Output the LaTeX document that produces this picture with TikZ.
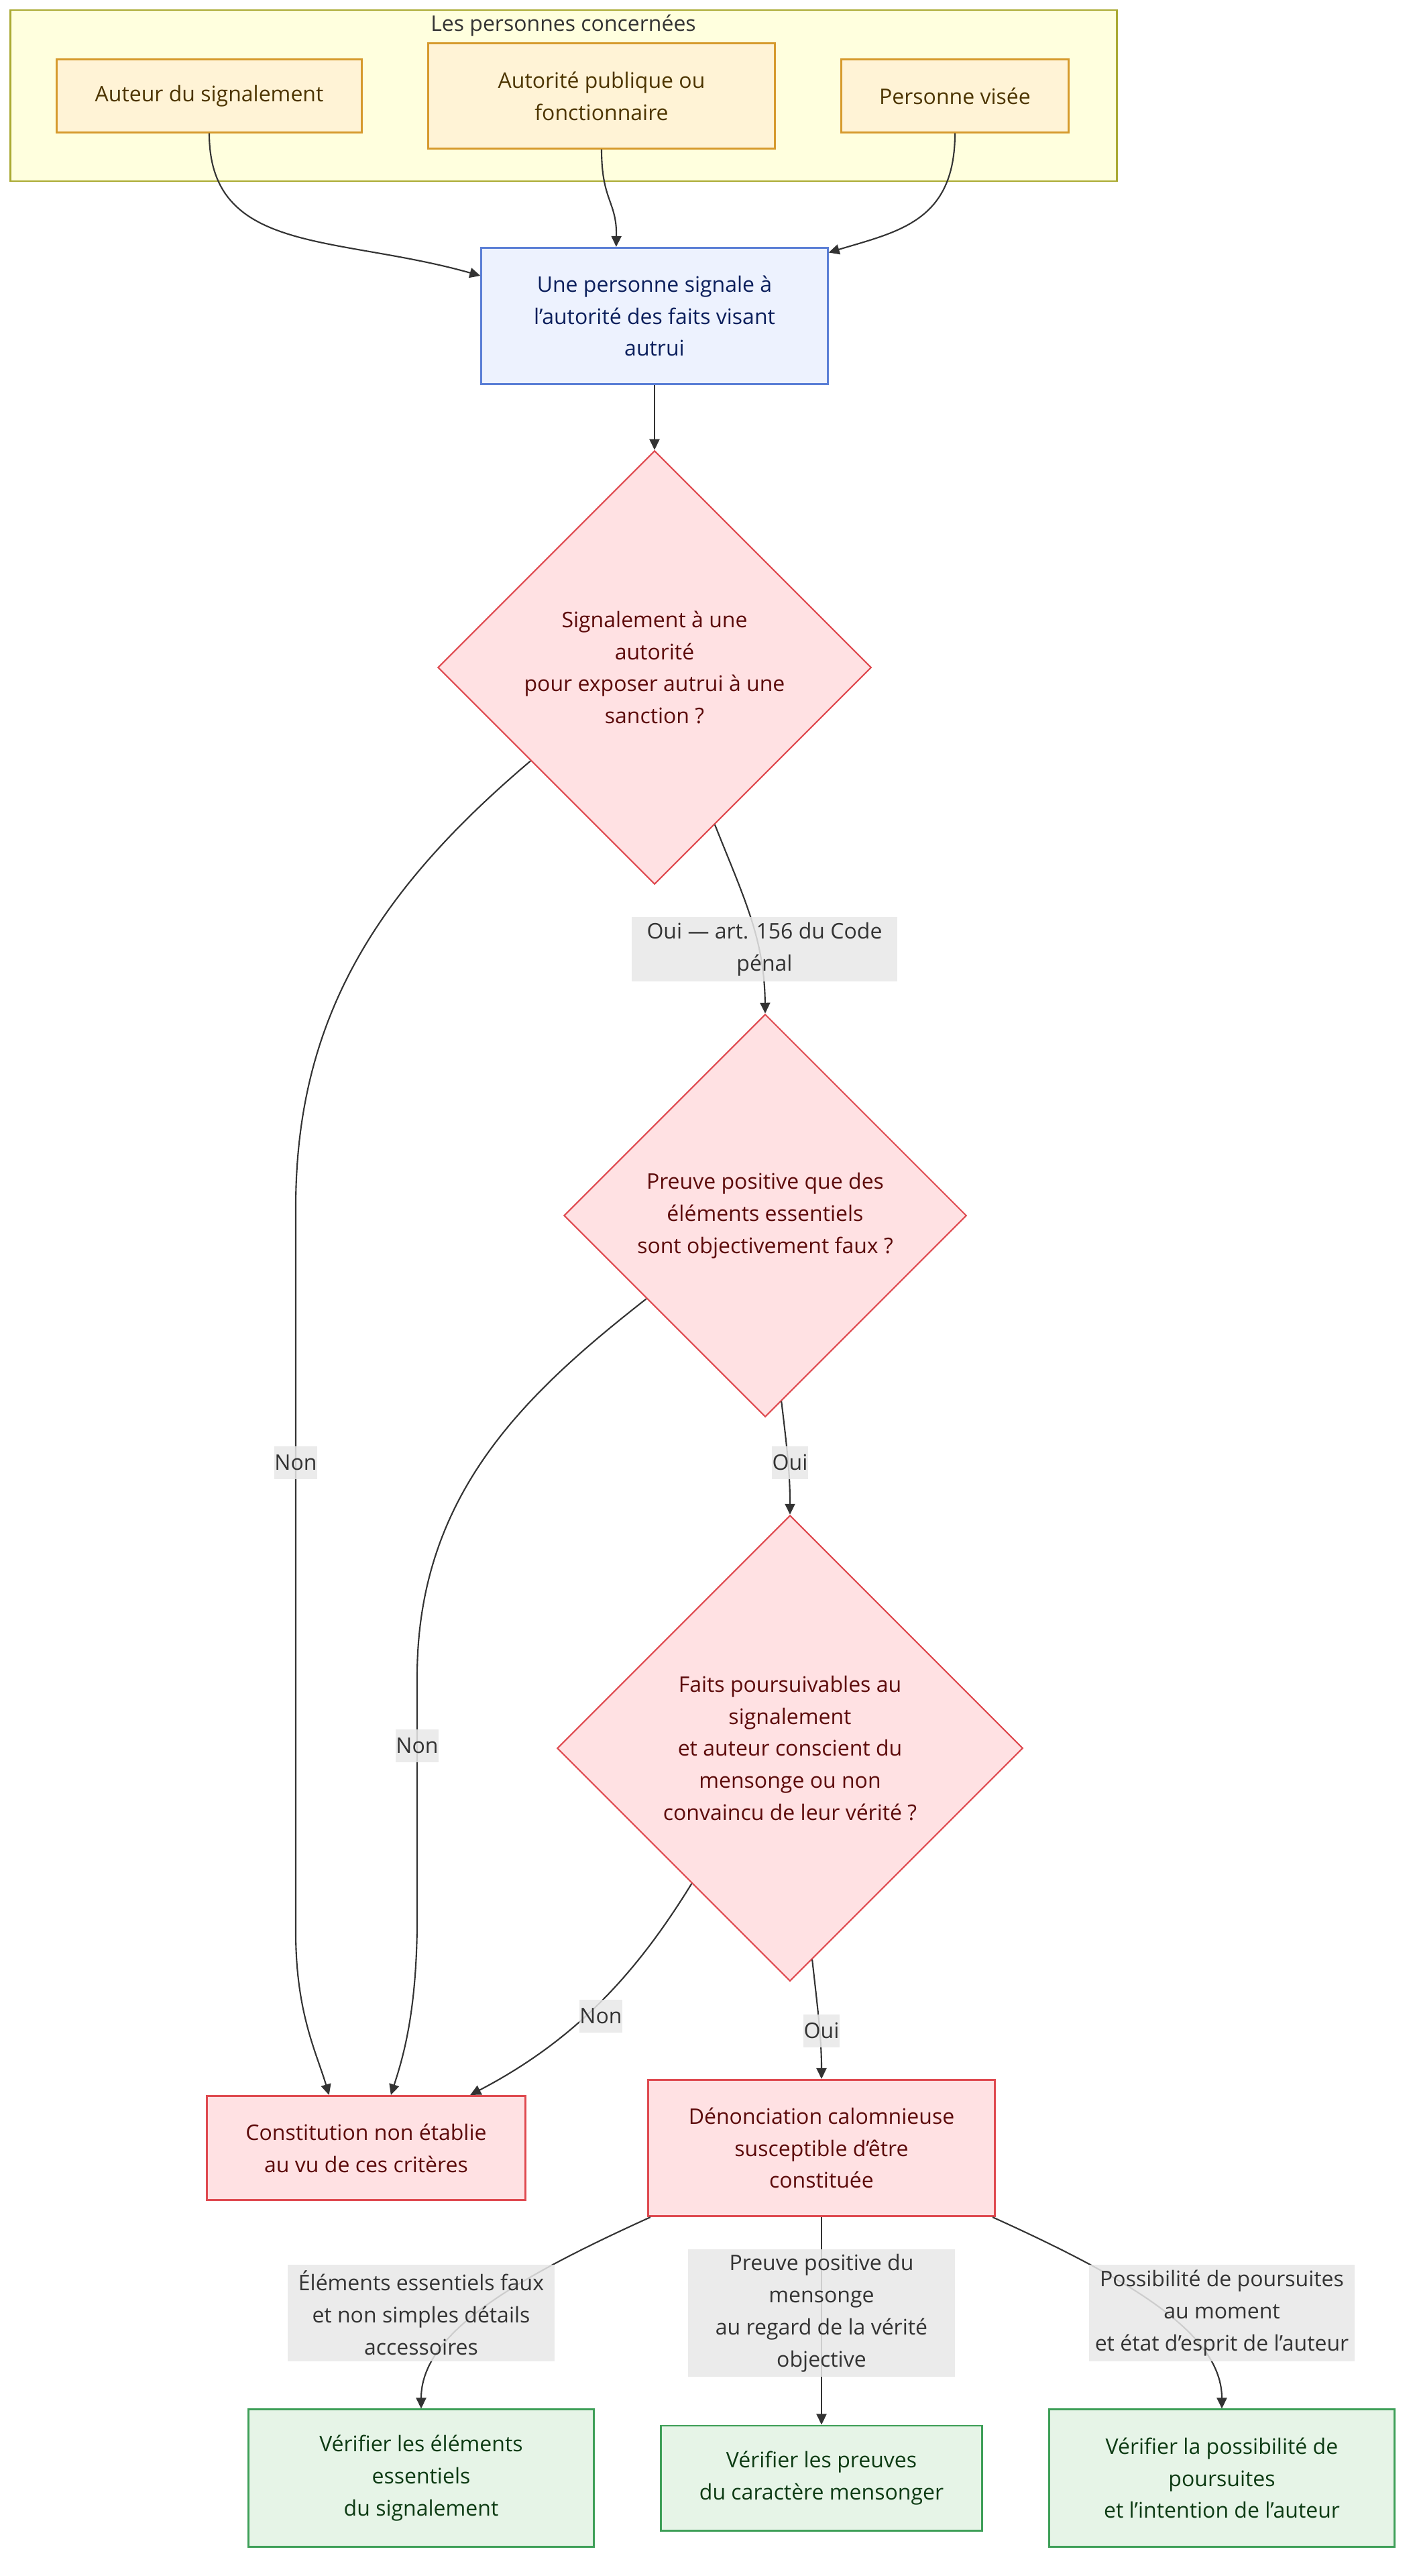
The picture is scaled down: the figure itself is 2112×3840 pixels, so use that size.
\documentclass[tikz,border=0pt]{standalone}
\usepackage{fontspec}
\setmainfont{Open Sans}
\usetikzlibrary{shapes.geometric,arrows.meta}
\definecolor{GroupFill}{HTML}{FFFFDE}
\definecolor{GroupBorder}{HTML}{AAAA33}
\definecolor{PersonFill}{HTML}{FFF3D6}
\definecolor{PersonBorder}{HTML}{D69A2D}
\definecolor{PersonText}{HTML}{4D3500}
\definecolor{StartFill}{HTML}{EDF2FE}
\definecolor{StartBorder}{HTML}{5B7FD6}
\definecolor{StartText}{HTML}{0B1F5C}
\definecolor{TestFill}{HTML}{FFE1E3}
\definecolor{TestBorder}{HTML}{DF4A50}
\definecolor{TestText}{HTML}{5C0A0A}
\definecolor{CheckFill}{HTML}{E6F4E7}
\definecolor{CheckBorder}{HTML}{3E9F58}
\definecolor{CheckText}{HTML}{0D3B14}
\definecolor{EdgeGrey}{HTML}{333333}
\definecolor{LabelFill}{HTML}{E8E8E8}
\tikzset{
    % Common box settings
    base/.style={
        rectangle,
        line width=0.85pt,
        align=center,
        inner sep=0pt,
        font=\fontsize{9.1pt}{13.6pt}\selectfont
    },
    group/.style={
        rectangle,
        draw=GroupBorder,
        fill=GroupFill,
        line width=0.8pt,
        inner sep=0pt
    },
    person/.style={
        base,
        draw=PersonBorder,
        fill=PersonFill,
        text=PersonText
    },
    process/.style={
        base,
        draw=StartBorder,
        fill=StartFill,
        text=StartText
    },
    decision/.style={
        base,
        diamond,
        aspect=1,
        line width=0.6pt,
        draw=TestBorder,
        fill=TestFill,
        text=TestText
    },
    outcome/.style={
        base,
        draw=TestBorder,
        fill=TestFill,
        text=TestText
    },
    check/.style={
        base,
        draw=CheckBorder,
        fill=CheckFill,
        text=CheckText
    },
    edge label/.style={
        rectangle,
        fill=LabelFill,
        fill opacity=0.85,
        text opacity=1,
        text=EdgeGrey,
        align=center,
        inner sep=0pt,
        font=\fontsize{9.1pt}{13.6pt}\selectfont
    },
    arrow/.style={
        -{Triangle[length=0.16cm,width=0.15cm]},
        line width=0.6pt,
        draw=EdgeGrey
    }
}

\begin{document}
\begin{tikzpicture}[x=0.01cm, y=-0.01cm]
        \fill[white] (0,0) rectangle (2112,3840);
        \useasboundingbox (0,0) rectangle (2112,3840);

        % Persons group
        \node[group, minimum width=16.49cm, minimum height=2.55cm] (group) at (840.5,142.5) {};
        \node[base, text=EdgeGrey] (grouptitle) at (840,38) {Les personnes concernées};
        \node[person, minimum width=4.54cm, minimum height=1.08cm] (auteur) at (312,143) {Auteur du signalement};
        \node[person, minimum width=5.16cm, minimum height=1.56cm] (autorite) at (897,143) {Autorité publique ou\\fonctionnaire};
        \node[person, minimum width=3.39cm, minimum height=1.08cm] (visee) at (1424,143) {Personne visée};

        % Report
        \node[process, minimum width=5.16cm, minimum height=2.03cm] (signal) at (976,471) {Une personne signale à\\l’autorité des faits visant\\autrui};

        % Questions
        \node[decision, minimum width=6.46cm, minimum height=6.46cm] (q1) at (976,995) {Signalement à une\\autorité\\pour exposer autrui à une\\sanction ?};
        \node[decision, minimum width=6cm, minimum height=6cm] (q2) at (1141,1812) {Preuve positive que des\\éléments essentiels\\sont objectivement faux ?};
        \node[decision, minimum width=6.94cm, minimum height=6.94cm] (q3) at (1178,2606) {Faits poursuivables au\\signalement\\et auteur conscient du\\mensonge ou non\\convaincu de leur vérité ?};

        % Outcomes
        \node[outcome, minimum width=4.74cm, minimum height=1.55cm] (nonetab) at (546,3202) {Constitution non établie\\au vu de ces critères};
        \node[outcome, minimum width=5.16cm, minimum height=2.03cm] (calomnie) at (1225,3202) {Dénonciation calomnieuse\\susceptible d’être\\constituée};

        % Checks
        \node[check, minimum width=5.15cm, minimum height=2.04cm] (checkelem) at (628,3694) {Vérifier les éléments\\essentiels\\du signalement};
        \node[check, minimum width=4.78cm, minimum height=1.56cm] (checkpreuve) at (1225,3694) {Vérifier les preuves\\du caractère mensonger};
        \node[check, minimum width=5.15cm, minimum height=2.04cm] (checkposs) at (1822,3694) {Vérifier la possibilité de\\poursuites\\et l’intention de l’auteur};

        % Arrows
        \draw[arrow] (auteur.south) .. controls (312,380) and (500,350) .. (signal.167);
        \draw[arrow] (autorite.south) .. controls (897,300) and (920,300) .. (signal.119);
        \draw[arrow] (visee.south) .. controls (1424,330) and (1340,345) .. (signal.20);
        \draw[arrow] (signal) -- (q1);
        \draw[arrow] (q1.-69) .. controls (1110,1340) and (1140,1400) .. (q2.north);
        \draw[arrow] (q1.217) .. controls (560,1330) and (441,1520) .. (441,1800) -- (441,2880) .. controls (441,3000) and (472,3060) .. (nonetab.125);
        \draw[arrow] (q2.-85) .. controls (1175,2170) and (1178,2200) .. (q3.north);
        \draw[arrow] (q2.215) .. controls (780,2080) and (622,2230) .. (622,2500) -- (622,2860) .. controls (622,3000) and (600,3070) .. (nonetab.65);
        \draw[arrow] (q3.-84) .. controls (1220,3000) and (1225,3040) .. (calomnie.north);
        \draw[arrow] (q3.234) .. controls (950,2940) and (860,3040) .. (nonetab.27);
        \draw[arrow] (calomnie.202) .. controls (760,3400) and (628,3480) .. (checkelem.north);
        \draw[arrow] (calomnie.south) -- (checkpreuve.north);
        \draw[arrow] (calomnie.-22) .. controls (1690,3400) and (1822,3480) .. (checkposs.north);

        % Edge labels
        \node[edge label, minimum width=3.96cm, minimum height=0.95cm] (ouiart) at (1140,1415) {Oui — art. 156 du Code\\pénal};
        \node[edge label, minimum width=0.64cm, minimum height=0.49cm] (nonq1) at (441,2180) {Non};
        \node[edge label, minimum width=0.54cm, minimum height=0.49cm] (ouiq2) at (1178,2180) {Oui};
        \node[edge label, minimum width=0.64cm, minimum height=0.49cm] (nonq2) at (622,2602) {Non};
        \node[edge label, minimum width=0.64cm, minimum height=0.49cm] (nonq3) at (896,3005) {Non};
        \node[edge label, minimum width=0.54cm, minimum height=0.49cm] (ouiq3) at (1225,3027) {Oui};
        \node[edge label, minimum width=3.97cm, minimum height=1.43cm] (lblelem) at (628,3448) {Éléments essentiels faux\\et non simples détails\\accessoires};
        \node[edge label, minimum width=3.97cm, minimum height=1.90cm] (lblpreuve) at (1225,3448) {Preuve positive du\\mensonge\\au regard de la vérité\\objective};
        \node[edge label, minimum width=3.95cm, minimum height=1.43cm] (lblposs) at (1822,3448) {Possibilité de poursuites\\au moment\\et état d’esprit de l’auteur};
    \end{tikzpicture}
\end{document}
